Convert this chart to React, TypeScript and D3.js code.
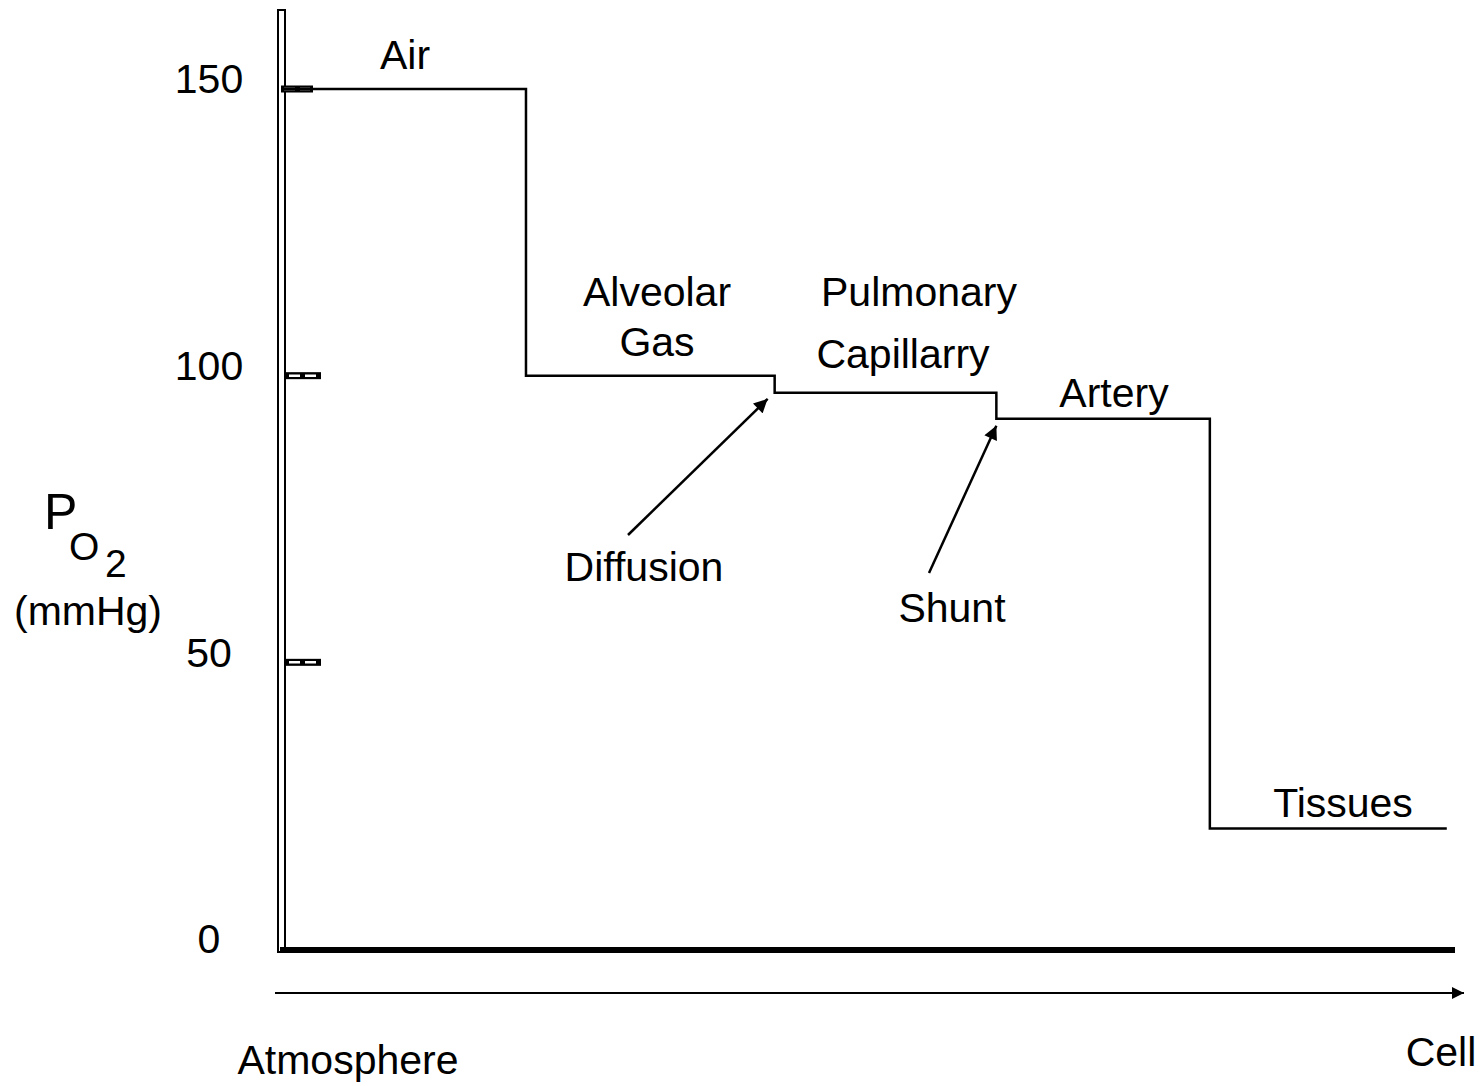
import React from "react";
import * as d3 from "d3";

// stages along the path from atmosphere to cell
const stages = ["Air", "Alveolar Gas", "Pulmonary Capillarry", "Artery", "Tissues"];
const stageStart = [0, 20.8, 42.0, 60.9, 79.1];
const stageEnd = [20.8, 42.0, 60.9, 79.1, 99.3];
const po2 = [150, 100, 97, 92.5, 21];
const yTicks = [0, 50, 100, 150];

const W = 1480;
const H = 1086;
const FONT = "'Liberation Sans', Arial, sans-serif";
const FS = 41;

const x = d3.scaleLinear().domain([0, 100]).range([282, 1455]);
const y = d3.scaleLinear().domain([0, 150]).range([949, 89]);

export default function App() {
  const steps: [number, number][] = [];
  stages.forEach((_, i) => {
    steps.push([stageStart[i], po2[i]]);
    steps.push([stageEnd[i], po2[i]]);
  });
  const line = d3
    .line<[number, number]>()
    .x((d) => x(d[0]))
    .y((d) => y(d[1]));

  const txt = (s: string, cx: number, cy: number, extra: any = {}) => (
    <text x={cx} y={cy} dy="0.35em" textAnchor="middle" fontSize={FS} fontFamily={FONT} {...extra}>
      {s}
    </text>
  );

  // annotation arrows, tip at the step they point to
  const diffTip = [x(stageStart[2]) - 7, y(po2[2]) + 6];
  const shuntTip = [x(stageStart[3]), y(po2[3]) + 7];

  return (
    <svg width={W} height={H} style={{ position: "absolute", left: 0, top: 0, background: "#fff" }}>
      <defs>
        <marker id="ah" viewBox="0 0 10 10" refX="10" refY="5" markerWidth="6" markerHeight="5.5" orient="auto" markerUnits="strokeWidth">
          <path d="M0,0 L10,5 L0,10 z" fill="#000" />
        </marker>
        <marker id="ah2" viewBox="0 0 10 10" refX="10" refY="5" markerWidth="7" markerHeight="6" orient="auto" markerUnits="strokeWidth">
          <path d="M0,0 L10,5 L0,10 z" fill="#000" />
        </marker>
      </defs>

      {/* y axis: hollow double line */}
      <rect x={278} y={10} width={7} height={942} fill="#fff" stroke="#000" strokeWidth={2} />

      {/* hatched tick marks */}
      {yTicks.filter((t) => t > 0).map((t) => {
        const x0 = t === 150 ? 281 : 286;
        const x1 = t === 150 ? 313 : 321;
        return (
          <g key={t}>
            <rect x={x0} y={y(t) - 3.5} width={x1 - x0} height={7} fill="#000" />
            <line x1={x0 + 3} x2={x1 - 3} y1={y(t)} y2={y(t)} stroke="#fff" strokeWidth={2.5} strokeDasharray="11 5" />
          </g>
        );
      })}

      {/* tick labels */}
      {yTicks.map((t) => txt(String(t), 209, y(t) - 10, { key: "t" + t }))}

      {/* baseline */}
      <line x1={280} x2={1455} y1={y(0) + 1} y2={y(0) + 1} stroke="#000" strokeWidth={6} />

      {/* direction arrow */}
      <line x1={275} x2={1464} y1={993} y2={993} stroke="#000" strokeWidth={2} markerEnd="url(#ah2)" />

      {/* PO2 step line */}
      <path d={line(steps) || ""} fill="none" stroke="#000" strokeWidth={2.5} />

      {/* stage labels */}
      {txt("Air", 405, 55)}
      {txt("Alveolar", 657, 292)}
      {txt("Gas", 657, 342)}
      {txt("Pulmonary", 919, 292)}
      {txt("Capillarry", 903, 354)}
      {txt("Artery", 1114, 393)}
      {txt("Tissues", 1343, 803)}

      {/* annotations */}
      <line x1={628} y1={535} x2={diffTip[0]} y2={diffTip[1]} stroke="#000" strokeWidth={2.5} markerEnd="url(#ah)" />
      {txt("Diffusion", 644, 567)}
      <line x1={929} y1={573} x2={shuntTip[0]} y2={shuntTip[1]} stroke="#000" strokeWidth={2.5} markerEnd="url(#ah)" />
      {txt("Shunt", 952, 608)}

      {/* axis title: P with subscript O2 */}
      <text x={44} y={529} fontSize={50} fontFamily={FONT}>
        P
        <tspan x={69} y={560} fontSize={39}>O</tspan>
        <tspan x={105} y={577} fontSize={39}>2</tspan>
      </text>
      <text x={88} y={625} textAnchor="middle" fontSize={FS} fontFamily={FONT}>(mmHg)</text>

      {txt("Atmosphere", 348, 1060)}
      {txt("Cell", 1441, 1052)}
    </svg>
  );
}
